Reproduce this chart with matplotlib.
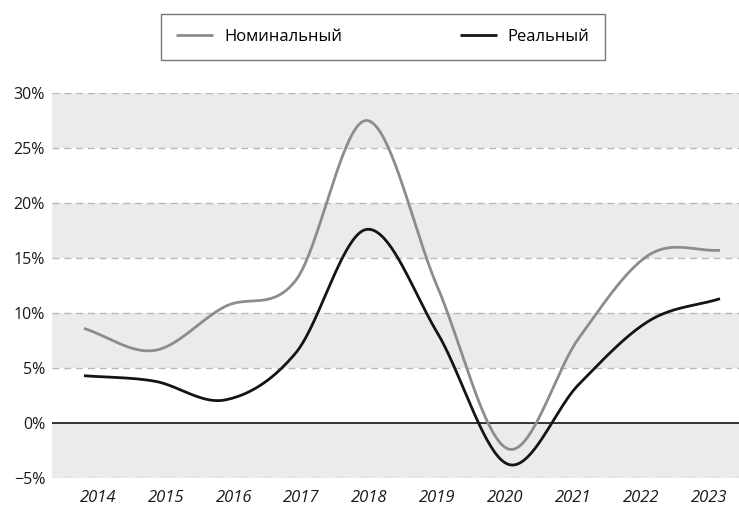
import matplotlib
matplotlib.use('Agg')
import matplotlib.pyplot as plt
import numpy as np

# values, % per year
years = ['2014', '2015', '2016', '2017', '2018', '2019', '2020', '2021', '2022', '2023']
nominal = [8.6, 6.6, 10.6, 13.0, 27.5, 12.4, -2.35, 7.7, 15.3, 15.7]
real = [4.3, 3.8, 2.1, 6.4, 17.6, 8.2, -3.75, 3.5, 9.3, 11.3]

y_ticks = [-5, 0, 5, 10, 15, 20, 25, 30]
y_labels = ['\u22125%', '0%', '5%', '10%', '15%', '20%', '25%', '30%']


def smooth(ys, steps=40):
    # catmull-rom style smoothing between the yearly points (like a spreadsheet "smoothed line")
    ys = np.asarray(ys, dtype=float)
    n = len(ys)
    m = np.zeros(n)
    m[1:-1] = (ys[2:] - ys[:-2]) / 2.0
    m[0] = ys[1] - ys[0]
    m[-1] = ys[-1] - ys[-2]
    xs_out, ys_out = [], []
    for i in range(n - 1):
        t = np.linspace(0, 1, steps, endpoint=False)
        h00 = 2 * t**3 - 3 * t**2 + 1
        h10 = t**3 - 2 * t**2 + t
        h01 = -2 * t**3 + 3 * t**2
        h11 = t**3 - t**2
        xs_out.append(i + t)
        ys_out.append(h00 * ys[i] + h10 * m[i] + h01 * ys[i + 1] + h11 * m[i + 1])
    xs_out.append([n - 1])
    ys_out.append([ys[-1]])
    return np.concatenate(xs_out), np.concatenate(ys_out)


plt.rcParams['font.family'] = ['Open Sans', 'DejaVu Sans']

fig = plt.figure(figsize=(7.39, 5.08), dpi=100)
ax = fig.add_axes([52 / 739, 30 / 508, 687 / 739, 385 / 508])

x_idx = np.arange(len(years))

# alternating grey bands
for lo in range(-5, 30, 10):
    ax.axhspan(lo, lo + 5, color='#ebebeb', lw=0, zorder=0)
for v in y_ticks:
    if v != 0:
        ax.axhline(v, color='#b8b8b8', lw=1.0, ls=(0, (5, 3.5)), zorder=1)
ax.axhline(0, color='black', lw=1.1, zorder=2)

sx, sy = smooth(nominal)
ax.plot(sx, sy, color='#8c8c8c', lw=2.0, label='Номинальный', zorder=3, solid_capstyle='butt')
sx, sy = smooth(real)
ax.plot(sx, sy, color='#141414', lw=2.0, label='Реальный', zorder=4, solid_capstyle='butt')

ax.set_xlim(-32 / 70.67, 9 + 19 / 70.67)
ax.set_ylim(-5, 30)

ax.set_yticks(y_ticks)
ax.set_yticklabels(y_labels, fontsize=11.5, color='#1a1a1a')
ax.set_xticks([0.2 + i * 0.96 for i in x_idx])
ax.set_xticklabels(years, fontsize=12, style='italic', color='#1a1a1a')
ax.tick_params(axis='both', length=0)
ax.tick_params(axis='x', pad=9)
ax.tick_params(axis='y', pad=5)
for s in ax.spines.values():
    s.set_visible(False)

leg = fig.legend(loc='center', bbox_to_anchor=(383 / 739, 1 - 37 / 508), ncol=2,
                 fontsize=12, frameon=True, fancybox=False, edgecolor='#555555',
                 handlelength=2.2, handletextpad=0.65, columnspacing=7.1,
                 borderpad=0.9)
leg.get_frame().set_linewidth(1.0)

fig.savefig('out.png', dpi=100)
